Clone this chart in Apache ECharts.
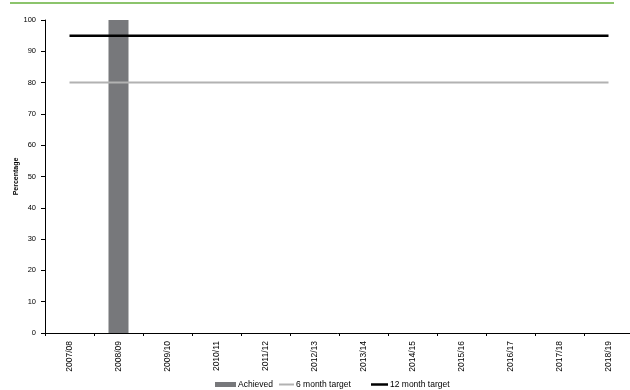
<!DOCTYPE html>
<html>
<head>
<meta charset="utf-8">
<script src="https://cdn.jsdelivr.net/npm/echarts@6/dist/echarts.min.js"></script>
<style>
html,body{margin:0;padding:0;background:#fff;}
#chart{width:630px;height:390px;}
</style>
</head>
<body>
<div id="chart"></div>
<script>
// Financial years shown along the x axis
const years = ['2007/08','2008/09','2009/10','2010/11','2011/12','2012/13','2013/14','2014/15','2015/16','2016/17','2017/18','2018/19'];
// Percentage achieved per year (only 2008/09 reported)
const achieved = [null, 100, null, null, null, null, null, null, null, null, null, null];
// Target levels
const target6 = [80, 80, 80, 80, 80, 80, 80, 80, 80, 80, 80, 80];
const target12 = [95, 95, 95, 95, 95, 95, 95, 95, 95, 95, 95, 95];
const yTicks = { min: 0, max: 100, interval: 10 };

const chart = echarts.init(document.getElementById('chart'), null, { renderer: 'canvas' });
const font = 'Liberation Sans, Arial, sans-serif';
const legendText = { fontSize: 8.5, color: '#000', fontFamily: font, padding: [0, 0, 0, -3] };

chart.setOption({
  animation: false,
  textStyle: { fontFamily: font },
  graphic: [{
    type: 'line',
    shape: { x1: 10, y1: 3, x2: 614, y2: 3 },
    style: { stroke: '#8cc46c', lineWidth: 2 }
  }],
  grid: {
    left: 45, top: 20, width: 588, height: 313,
    containLabel: false, outerBoundsMode: 'none'
  },
  legend: [
    {
      top: 380, left: 215, padding: 0, itemWidth: 21, itemHeight: 5,
      textStyle: legendText,
      data: [{ name: 'Achieved', icon: 'rect' }]
    },
    {
      top: 380, left: 279, padding: 0, itemWidth: 15, itemHeight: 2,
      textStyle: legendText,
      data: [{ name: '6 month target', icon: 'rect' }]
    },
    {
      top: 380, left: 371, padding: 0, itemWidth: 17, itemHeight: 2.5,
      textStyle: legendText,
      data: [{ name: '12 month target', icon: 'rect' }]
    }
  ],
  xAxis: {
    type: 'category',
    data: years,
    boundaryGap: true,
    axisLine: { lineStyle: { color: '#000', width: 1 } },
    axisTick: { show: true, length: 3, alignWithLabel: false, lineStyle: { color: '#000' } },
    axisLabel: { rotate: 90, fontSize: 8.5, color: '#000', margin: 8, interval: 0 }
  },
  yAxis: {
    type: 'value',
    min: yTicks.min, max: yTicks.max, interval: yTicks.interval,
    name: 'Percentage',
    nameLocation: 'middle',
    nameGap: 25,
    nameMoveOverlap: false,
    nameRotate: 90,
    nameTextStyle: { fontSize: 7, fontWeight: 'bold', color: '#000' },
    axisLine: { show: true, lineStyle: { color: '#000', width: 1 } },
    axisTick: { show: true, length: 4, lineStyle: { color: '#000' } },
    axisLabel: { fontSize: 7.5, color: '#000', margin: 9 },
    splitLine: { show: false }
  },
  series: [
    {
      name: 'Achieved', type: 'bar', data: achieved, barWidth: 20,
      itemStyle: { color: '#77787b' }
    },
    {
      name: '6 month target', type: 'line', data: target6, symbol: 'none',
      lineStyle: { color: '#b2b2b2', width: 2 }, itemStyle: { color: '#b2b2b2' }
    },
    {
      name: '12 month target', type: 'line', data: target12, symbol: 'none',
      lineStyle: { color: '#000', width: 2.5 }, itemStyle: { color: '#000' }
    }
  ]
});
</script>
</body>
</html>
